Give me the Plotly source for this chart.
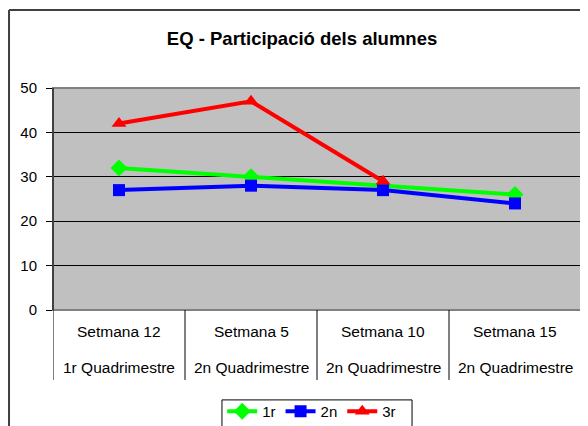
import plotly.graph_objects as go

# data
weeks = ["Setmana 12", "Setmana 5", "Setmana 10", "Setmana 15"]
quads = ["1r Quadrimestre", "2n Quadrimestre", "2n Quadrimestre", "2n Quadrimestre"]
serie_1r = [32, 30, 28, 26]
serie_2n = [27, 28, 27, 24]
serie_3r = [42, 47, 29, None]

font = "Liberation Sans, Arial, sans-serif"

fig = go.Figure()

fig.add_trace(go.Scatter(
    name="1r", x=weeks, y=serie_1r, mode="lines+markers",
    line=dict(color="#00FF00", width=4),
    marker=dict(symbol="diamond", size=13, color="#00FF00"),
))
fig.add_trace(go.Scatter(
    name="2n", x=weeks, y=serie_2n, mode="lines+markers",
    line=dict(color="#0000FF", width=4),
    marker=dict(symbol="square", size=12, color="#0000FF"),
))
fig.add_trace(go.Scatter(
    name="3r", x=weeks, y=serie_3r, mode="lines+markers",
    line=dict(color="#FF0000", width=4),
    marker=dict(symbol="triangle-up", size=13, color="#FF0000"),
))

# the page body adds an 8px offset, so the figure is 580x418
fig.update_layout(
    width=580, height=418,
    margin=dict(l=45, r=7, t=80, b=116, autoexpand=False),
    paper_bgcolor="white",
    plot_bgcolor="#C0C0C0",
    font=dict(family=font, size=15, color="black"),
    title=dict(text="<b>EQ - Participació dels alumnes</b>",
               font=dict(size=18.5, color="black"),
               x=0.507, xanchor="center", y=0.926, yanchor="middle"),
    showlegend=True,
    legend=dict(orientation="h", x=0.49, xanchor="center", y=-0.383, yanchor="top",
                borderwidth=0, bgcolor="rgba(0,0,0,0)",
                font=dict(size=15), itemwidth=30, tracegroupgap=0),
)

fig.update_xaxes(
    showticklabels=False, ticks="", showgrid=False,
    showline=True, linecolor="black", linewidth=1,
    range=[-0.5, 3.5], fixedrange=True,
)
fig.update_yaxes(
    range=[0, 50], dtick=10, showgrid=True, gridcolor="black", gridwidth=1,
    zeroline=False, showline=True, linecolor="black", linewidth=1,
    ticks="outside", ticklen=6, tickcolor="black", ticklabelstandoff=6,
)

# plot area border (grey on top/right)
fig.add_shape(type="rect", xref="paper", yref="paper", x0=0, x1=1, y0=0, y1=1,
              line=dict(color="#808080", width=2), layer="above")
fig.add_shape(type="line", xref="paper", yref="paper", x0=0, x1=0, y0=0, y1=1,
              line=dict(color="black", width=1), layer="above")

# category dividers below the plot
for i in range(len(weeks) + 1):
    fig.add_shape(type="line", xref="x", yref="paper", x0=i - 0.5, x1=i - 0.5,
                  y0=0, y1=-0.315, line=dict(color="black", width=1))

# two-level category labels
for w, q in zip(weeks, quads):
    fig.add_annotation(x=w, xref="x", y=-0.095, yref="paper", text=w,
                       showarrow=False, yanchor="middle", font=dict(size=15.5))
    fig.add_annotation(x=w, xref="x", y=-0.261, yref="paper", text=q,
                       showarrow=False, yanchor="middle", font=dict(size=15.5))

# legend frame (cut by the bottom edge)
fig.add_shape(type="rect", xref="paper", yref="paper", x0=0.320, x1=0.680,
              y0=-0.6, y1=-0.405, line=dict(color="black", width=1))

# outer chart frame (cropped on right and bottom)
fig.add_shape(type="line", xref="paper", yref="paper", x0=-0.0833, x1=-0.0833,
              y0=1.351, y1=-0.6, line=dict(color="#404040", width=2))
fig.add_shape(type="line", xref="paper", yref="paper", x0=-0.0833, x1=1.1,
              y0=1.351, y1=1.351, line=dict(color="#404040", width=2))

fig.write_html("out.html")
